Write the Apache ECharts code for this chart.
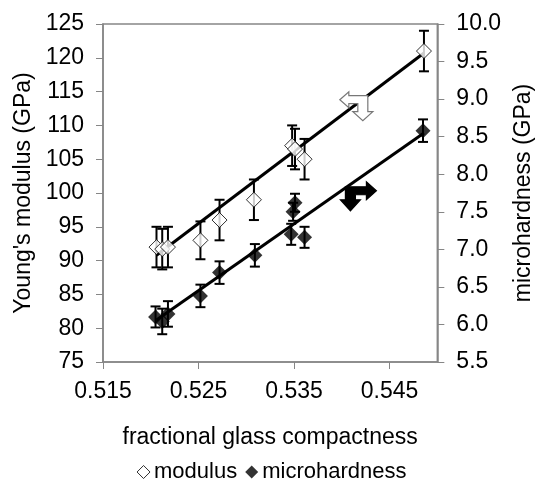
<!DOCTYPE html>
<html>
<head>
<meta charset="utf-8">
<script src="https://cdn.jsdelivr.net/npm/echarts@6/dist/echarts.min.js"></script>
<style>
html,body{margin:0;padding:0;background:#fff;}
#chart{width:543px;height:492px;}
</style>
</head>
<body>
<div id="chart"></div>
<script>
// ---- data ----
const modX   = [0.5206, 0.5212, 0.5218, 0.5252, 0.5272, 0.5308, 0.5348, 0.5351, 0.5361, 0.5486];
const modY   = [92, 91.7, 92, 93, 96, 99, 107, 106.5, 105, 121];
const modErr = [3, 3, 3, 2.8, 3, 3, 3, 3, 3, 3];

const hardX   = [0.5205, 0.5212, 0.5218, 0.5252, 0.5272, 0.5309, 0.5347, 0.5349, 0.5351, 0.5361, 0.5485];
const hardY   = [6.10, 6.04, 6.14, 6.38, 6.69, 6.92, 7.20, 7.50, 7.62, 7.16, 8.58];
const hardErr = [0.14, 0.17, 0.17, 0.15, 0.15, 0.15, 0.14, 0.12, 0.12, 0.14, 0.15];

const trendX    = [0.5206, 0.5486];
const modTrend  = [90.8, 120.7];
const hardTrend = [6.06, 8.55];

// anchor points of the two axis-indicating arrows
const modArrowAnchor  = [0.5422, 113.8];
const hardArrowAnchor = [0.5409, 7.78];

const xTicks = [0.515, 0.525, 0.535, 0.545];

// ---- build ----
const FONT = 'Liberation Sans, Arial, sans-serif';
const GRAY = '#868686';

const modPts  = modX.map((x, i) => [x, modY[i]]);
const hardPts = hardX.map((x, i) => [x, hardY[i]]);
const modErrData  = modX.map((x, i) => [x, modY[i] - modErr[i], modY[i] + modErr[i]]);
const hardErrData = hardX.map((x, i) => [x, hardY[i] - hardErr[i], hardY[i] + hardErr[i]]);

function errRender(params, api) {
  const x = api.value(0);
  const lo = api.coord([x, api.value(1)]);
  const hi = api.coord([x, api.value(2)]);
  const cap = 5;
  const st = {stroke: '#000', lineWidth: 2};
  return {type: 'group', children: [
    {type: 'line', shape: {x1: lo[0], y1: lo[1], x2: hi[0], y2: hi[1]}, style: st},
    {type: 'line', shape: {x1: lo[0] - cap, y1: lo[1], x2: lo[0] + cap, y2: lo[1]}, style: st},
    {type: 'line', shape: {x1: hi[0] - cap, y1: hi[1], x2: hi[0] + cap, y2: hi[1]}, style: st}
  ]};
}

// arrow outlines (pixel offsets around the anchor)
const leftDownArrow = [[-23,0],[-14,-8],[-14,-4],[5,-4],[5,12],[10,12],[0,21],[-10,12],[-5,12],[-5,4],[-14,4],[-14,8]];
const rightDownArrow = [[-5,-4],[16,-4],[16,-9],[26,0],[16,9],[16,4],[5,4],[5,9],[10,9],[0,20],[-10,9],[-5,9]];

function arrowRender(shape, fill, stroke) {
  return function (params, api) {
    const c = api.coord([api.value(0), api.value(1)]);
    return {
      type: 'polygon',
      shape: {points: shape.map(p => [c[0] + p[0], c[1] + p[1]])},
      style: {fill: fill, stroke: stroke, lineWidth: 1.2}
    };
  };
}

const chart = echarts.init(document.getElementById('chart'), null, {renderer: 'canvas'});
chart.setOption({
  animation: false,
  backgroundColor: '#fff',
  textStyle: {fontFamily: FONT},
  grid: {left: 103, right: 100, top: 24, bottom: 130, show: true, borderColor: GRAY, borderWidth: 1.5},
  legend: {
    bottom: 4, left: 'center',
    itemWidth: 13, itemHeight: 13, itemGap: 8,
    textStyle: {fontSize: 22, color: '#000', fontFamily: FONT, padding: [0, 0, 0, -1]},
    data: [
      {name: 'modulus', icon: 'diamond', itemStyle: {color: '#fff', borderColor: '#000', borderWidth: 1}},
      {name: 'microhardness', icon: 'diamond', itemStyle: {color: '#000'}}
    ]
  },
  xAxis: {
    type: 'value', min: 0.515, max: 0.55, interval: 0.01,
    name: 'fractional glass compactness', nameLocation: 'middle', nameGap: 64,
    nameTextStyle: {fontSize: 23, color: '#000', fontFamily: FONT},
    axisLine: {show: true, lineStyle: {color: GRAY, width: 1.5}},
    axisTick: {show: true, length: 7, lineStyle: {color: GRAY}},
    splitLine: {show: false},
    axisLabel: {
      fontSize: 23, color: '#000', margin: 18, showMaxLabel: false,
      formatter: v => { const t = xTicks.find(k => Math.abs(k - v) < 1e-6); return t !== undefined ? t.toFixed(3) : ''; }
    }
  },
  yAxis: [
    {
      type: 'value', min: 75, max: 125, interval: 5,
      name: "Young's modulus (GPa)", nameLocation: 'middle', nameGap: 68,
      nameTextStyle: {fontSize: 23, color: '#000', fontFamily: FONT},
      axisLine: {show: true, lineStyle: {color: GRAY, width: 1.5}},
      axisTick: {show: true, length: 7, lineStyle: {color: GRAY}},
      splitLine: {show: false},
      axisLabel: {fontSize: 23, color: '#000', margin: 19}
    },
    {
      type: 'value', min: 5.5, max: 10, interval: 0.5, position: 'right',
      name: 'microhardness (GPa)', nameLocation: 'middle', nameGap: 66,
      nameTextStyle: {fontSize: 23, color: '#000', fontFamily: FONT},
      axisLine: {show: true, lineStyle: {color: GRAY, width: 1.5}},
      axisTick: {show: true, length: 7, lineStyle: {color: GRAY}},
      splitLine: {show: false},
      axisLabel: {fontSize: 23, color: '#000', margin: 19, formatter: v => v.toFixed(1)}
    }
  ],
  series: [
    {type: 'line', yAxisIndex: 0, data: trendX.map((x, i) => [x, modTrend[i]]), showSymbol: false, symbol: 'none',
     lineStyle: {color: '#000', width: 3}, z: 2, silent: true},
    {type: 'line', yAxisIndex: 1, data: trendX.map((x, i) => [x, hardTrend[i]]), showSymbol: false, symbol: 'none',
     lineStyle: {color: '#000', width: 3}, z: 2, silent: true},
    {type: 'custom', yAxisIndex: 0, renderItem: errRender, data: modErrData, encode: {x: 0, y: [1, 2]}, z: 3},
    {type: 'custom', yAxisIndex: 1, renderItem: errRender, data: hardErrData, encode: {x: 0, y: [1, 2]}, z: 3},
    {name: 'modulus', type: 'scatter', yAxisIndex: 0, data: modPts, symbol: 'diamond', symbolSize: [15, 15],
     itemStyle: {color: '#fff', borderColor: '#000', borderWidth: 1}, z: 5},
    {name: 'microhardness', type: 'scatter', yAxisIndex: 1, data: hardPts, symbol: 'diamond', symbolSize: [15, 15],
     itemStyle: {color: '#000'}, z: 5},
    {type: 'custom', yAxisIndex: 0, renderItem: arrowRender(leftDownArrow, '#fff', '#777'), data: [modArrowAnchor], z: 4},
    {type: 'custom', yAxisIndex: 1, renderItem: arrowRender(rightDownArrow, '#000', '#000'), data: [hardArrowAnchor], z: 4}
  ]
});
</script>
</body>
</html>
